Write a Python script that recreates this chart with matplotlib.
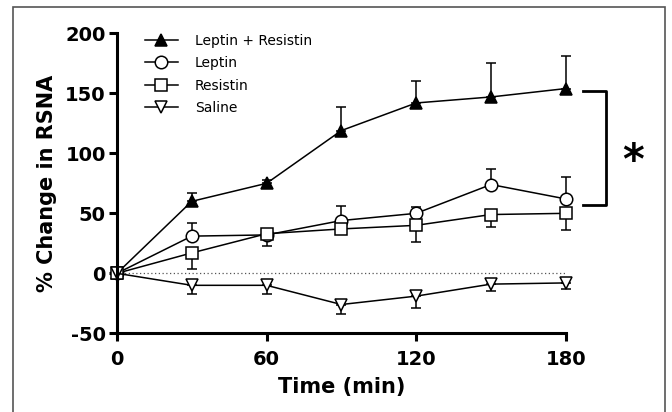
import numpy as np
import matplotlib.pyplot as plt
from matplotlib.patches import Rectangle
from matplotlib.lines import Line2D

plt.rcParams['font.family'] = ['DejaVu Sans']
plt.rcParams['axes.unicode_minus'] = False

# data
time = [0, 30, 60, 90, 120, 150, 180]
lr_mean = [0, 60, 75, 119, 142, 147, 154]
lr_err = [0, 7, 3, 20, 18, 28, 27]
lep_mean = [0, 31, 32, 44, 50, 74, 62]
lep_err = [0, 11, 5, 12, 5, 13, 18]
res_mean = [0, 17, 33, 37, 40, 49, 50]
res_err = [0, 13, 10, 4, 14, 10, 14]
sal_mean = [0, -10, -10, -26, -19, -9, -8]
sal_err = [0, 7, 7, 8, 10, 6, 5]

xticks = [0, 60, 120, 180]
yticks = [-50, 0, 50, 100, 150, 200]

fig = plt.figure(figsize=(6.72, 4.12), dpi=100)
ax = fig.add_axes([0.174, 0.191, 0.668, 0.728])

zeros = np.zeros(len(time))
common = dict(color='black', lw=1.1, capsize=3.5, elinewidth=1.1, capthick=1.1,
              clip_on=False, mec='black', mew=1.1)

series = [
    ('Leptin + Resistin', lr_mean, [zeros, lr_err], '^', 'black', 9),
    ('Leptin', lep_mean, [zeros, lep_err], 'o', 'white', 9),
    ('Resistin', res_mean, [res_err, zeros], 's', 'white', 8),
    ('Saline', sal_mean, [sal_err, zeros], 'v', 'white', 9),
]
handles = []
for label, m, err, mk, fc, ms in series:
    eb = ax.errorbar(time, m, yerr=err, marker=mk, mfc=fc, ms=ms, **common)
    for part in eb.lines[1] + eb.lines[2]:
        part.set_clip_on(False)
    handles.append(Line2D([], [], color='black', lw=1.1, marker=mk, mfc=fc,
                          mec='black', mew=1.1, ms=ms, label=label))

ax.plot([0, 180], [0, 0], ls=(0, (1, 2)), color='#555555', lw=0.9, zorder=0)

ax.set_xlim(0, 180)
ax.set_ylim(-50, 200)
ax.set_xticks(xticks)
ax.set_yticks(yticks)
for s in ['top', 'right']:
    ax.spines[s].set_visible(False)
for s in ['left', 'bottom']:
    ax.spines[s].set_linewidth(2.2)
ax.tick_params(width=2.2, length=6, labelsize=14)
ax.tick_params(axis='x', pad=6)
ax.tick_params(axis='y', pad=2)
for t in ax.get_xticklabels() + ax.get_yticklabels():
    t.set_fontweight('bold')

ax.set_xlabel('Time (min)', fontsize=15, fontweight='bold', labelpad=6)
ax.set_ylabel('% Change in RSNA', fontsize=15, fontweight='bold', labelpad=6)

ax.legend(handles=handles, loc='upper left', bbox_to_anchor=(0.062, 0.998), frameon=False,
          fontsize=10, handlelength=2.4, handletextpad=1.2,
          labelspacing=0.6, borderpad=0, borderaxespad=0)

# significance bracket
ax.plot([187, 196, 196, 187], [152, 152, 57, 57], color='black', lw=2, clip_on=False)
ax.text(207, 93, '*', fontsize=30, fontweight='bold', ha='center', va='center')

# outer frame
fig.patches.append(Rectangle((13 / 672, -0.02), (665 - 13) / 672, 1.0 + 0.02 - 7 / 412,
                             transform=fig.transFigure, fill=False,
                             edgecolor='#555555', lw=1.2))

fig.savefig('out.png', dpi=100)
